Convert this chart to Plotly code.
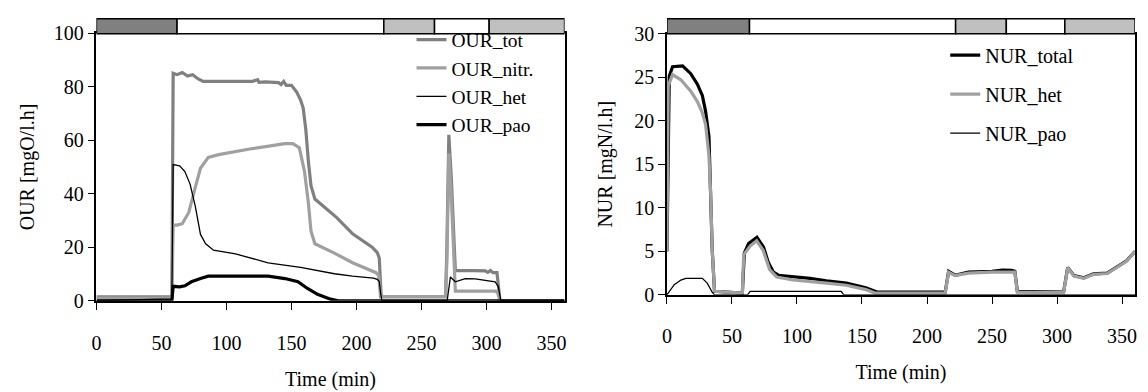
import plotly.graph_objects as go

# ---------------- data ----------------
# Left panel: OUR series (time in min, value in mgO/l.h)
t_our_tot = [0, 58, 59, 62, 66, 70, 74, 78, 82, 90, 100, 110, 120, 124, 125, 130, 140, 142, 144, 146,
             150, 154, 157, 159, 161, 163, 165, 168, 175, 185, 197, 205, 212, 216, 217.5, 219,
             268.5, 269.5, 271, 273, 275, 276, 290, 299, 301, 303, 305, 308, 310.4, 360]
our_tot = [1.5, 1.5, 85, 84.5, 85.3, 84, 84.5, 83, 82, 82, 82, 82, 82, 82.6, 81.6, 81.8, 81.5, 80.8, 82, 80.5,
           80.5, 78, 75, 72, 64, 52, 43, 38, 35, 31, 25, 22.5, 20, 18, 16, 1.5,
           1.5, 20, 62, 45, 22, 11.3, 11.3, 11.2, 10.6, 11.3, 10.5, 10.5, 0, 0]

t_our_nitr = [0, 58, 59, 62, 66, 71, 76, 80, 86, 94, 119, 145, 151, 156, 160, 163, 165, 168, 183, 197,
              215, 217, 218.5, 268.5, 269.5, 271, 273, 275, 276, 307, 308.5, 310.4, 360]
our_nitr = [1, 1, 28.3, 28.3, 28.8, 33, 42.4, 49.5, 53.6, 54.6, 56.8, 58.7, 58.7, 57.2, 48.3, 36.5, 26, 21.3, 17.8, 14.2,
            10.5, 9.5, 1.5, 1.5, 15, 55, 38, 12, 3.6, 3.6, 3.0, 0, 0]

t_our_het = [0, 44, 58, 59, 64, 68, 72, 76, 80, 84, 90, 107, 132, 157, 183, 197, 213, 216, 217.5, 218.5, 219.5,
             269.7, 271, 272.2, 276, 283.6, 291.3, 299, 306.6, 309, 311, 360]
our_het = [0, 0.7, 0.7, 50.9, 50.4, 48.3, 43.6, 35.4, 24.8, 21.3, 18.9, 17.5, 14.2, 12.5, 10.1, 9.2, 8.5, 8.0, 7.2, 3, 0,
           0, 6, 8.9, 7.1, 8.3, 8.2, 7.7, 7.1, 5.3, 0, 0]

t_our_pao = [0, 58, 59, 64, 68, 73, 80, 86, 100, 115, 132, 145, 155, 162, 170, 180, 186, 360]
our_pao = [0, 0, 5.4, 5.2, 5.6, 7.1, 8.3, 9.2, 9.2, 9.1, 9.2, 8.3, 7.1, 4.7, 2.4, 0.6, 0, 0]

our_names = ["OUR_tot", "OUR_nitr.", "OUR_het", "OUR_pao"]

# Right panel: NUR series (time in min, value in mgN/l.h)
t_nur_total = [0, 1.8, 4.3, 12, 18.3, 23.4, 27.2, 29.7, 32.3, 33.6, 34.8, 36.6, 58, 59.5, 62.8, 69.2, 74.2,
               78, 81.9, 85.7, 97, 110, 122.6, 138, 153, 162, 214, 216.6, 221.6, 231.8, 250, 258, 265,
               267.5, 269.5, 305, 308.2, 313, 320.6, 328, 338.5, 346, 353.5, 360]
nur_total = [5, 25.1, 26.2, 26.3, 25.4, 24.2, 22.9, 21.1, 18.2, 12.4, 5.2, 0.4, 0.2, 4.8, 5.9, 6.6, 5.5,
             3.7, 2.6, 2.25, 2.07, 1.9, 1.6, 1.35, 0.8, 0.3, 0.3, 2.7, 2.25, 2.6, 2.7, 2.85, 2.8,
             2.7, 0.4, 0.3, 3.15, 2.2, 1.96, 2.4, 2.5, 3.15, 3.9, 5.0]

t_nur_het = [0, 1, 4.3, 10.7, 18.3, 23.4, 27.2, 29.7, 32.3, 33.6, 34.8, 36.6, 58, 59, 64, 69, 74, 79, 84.4,
             97, 122.6, 138, 153, 160, 214, 216.6, 221.6, 231.8, 250, 265, 267.5, 269.5, 305, 308.2,
             313, 320.6, 328, 338.5, 346, 353.5, 360]
nur_het = [5, 24.0, 25.3, 24.7, 23.4, 22.2, 20.9, 19.6, 16, 11.7, 5.2, 0.4, 0.2, 4.6, 5.6, 6.2, 5.1, 2.9, 2.05,
           1.7, 1.35, 1.1, 0.6, 0.2, 0.2, 2.6, 2.2, 2.5, 2.6, 2.65, 2.6, 0.3, 0.25, 3.1,
           2.15, 1.9, 2.35, 2.45, 3.1, 3.85, 5.0]

t_nur_pao = [0, 5.6, 10.7, 14.5, 27.2, 31, 34.8, 36.6, 62, 64, 134, 136, 360]
nur_pao = [0, 1.16, 1.7, 1.9, 1.9, 1.35, 0.3, 0, 0, 0.4, 0.4, 0, 0]

nur_names = ["NUR_total", "NUR_het", "NUR_pao"]

# Phase bar on top of each panel (start/end times and fill)
phase_left_start = [0, 62, 221, 260, 302]
phase_left_end = [62, 221, 260, 302, 360]
phase_right_start = [0, 63.5, 222, 261, 306]
phase_right_end = [63.5, 222, 261, 306, 360]
phase_fill = ["#808080", "#ffffff", "#c0c0c0", "#ffffff", "#c0c0c0"]

# ---------------- figure ----------------
FONT = "Liberation Serif"
W, H = 1148, 392
fig = go.Figure()

def px_y(p):
    return 1 - p / H

fig.add_trace(go.Scatter(x=t_our_tot, y=our_tot, name=our_names[0], mode="lines",
                         line=dict(color="#808080", width=3.2), xaxis="x", yaxis="y", legend="legend"))
fig.add_trace(go.Scatter(x=t_our_nitr, y=our_nitr, name=our_names[1], mode="lines",
                         line=dict(color="#a0a0a0", width=3.2), xaxis="x", yaxis="y", legend="legend"))
fig.add_trace(go.Scatter(x=t_our_het, y=our_het, name=our_names[2], mode="lines",
                         line=dict(color="#000000", width=1.3), xaxis="x", yaxis="y", legend="legend"))
fig.add_trace(go.Scatter(x=t_our_pao, y=our_pao, name=our_names[3], mode="lines",
                         line=dict(color="#000000", width=3.2), xaxis="x", yaxis="y", legend="legend"))

fig.add_trace(go.Scatter(x=t_nur_total, y=nur_total, name=nur_names[0], mode="lines", legendgroup="a",
                         line=dict(color="#000000", width=3.2), xaxis="x2", yaxis="y2", legend="legend2"))
fig.add_trace(go.Scatter(x=t_nur_het, y=nur_het, name=nur_names[1], mode="lines", legendgroup="b",
                         line=dict(color="#a0a0a0", width=3.2), xaxis="x2", yaxis="y2", legend="legend2"))
fig.add_trace(go.Scatter(x=t_nur_pao, y=nur_pao, name=nur_names[2], mode="lines", legendgroup="c",
                         line=dict(color="#000000", width=1.3), xaxis="x2", yaxis="y2", legend="legend2"))

shapes = []
for xref, starts, ends in (("x", phase_left_start, phase_left_end), ("x2", phase_right_start, phase_right_end)):
    for s, e, c in zip(starts, ends, phase_fill):
        shapes.append(dict(type="rect", xref=xref, yref="paper", x0=s, x1=e,
                           y0=px_y(24), y1=px_y(8.3), fillcolor=c,
                           line=dict(color="black", width=1.5), layer="above"))

tickfont = dict(family=FONT, size=20, color="black")
titlefont = dict(family=FONT, size=20, color="black")
axis_common = dict(showline=True, linecolor="black", linewidth=1.5, mirror=True,
                   ticks="outside", ticklen=7, tickwidth=1, tickcolor="black",
                   showgrid=False, zeroline=False, tickfont=tickfont)

fig.update_layout(
    width=W, height=H, autosize=False,
    margin=dict(l=0, r=0, t=0, b=0),
    paper_bgcolor="white", plot_bgcolor="white",
    font=dict(family=FONT, size=20, color="black"),
    shapes=shapes,
    xaxis=dict(domain=[92 / W, 563 / W], range=[0, 360], tickvals=[0, 50, 100, 150, 200, 250, 300, 350],
               title=dict(text="Time (min)", font=titlefont, standoff=19), ticklabelstandoff=16,
               anchor="y", **axis_common),
    yaxis=dict(domain=[px_y(307), px_y(23.5)], range=[0, 100], tickvals=[0, 20, 40, 60, 80, 100],
               title=dict(text="OUR [mgO/l.h]", font=titlefont, standoff=14), anchor="x", **axis_common),
    xaxis2=dict(domain=[666 / W, 1137 / W], range=[0, 360], tickvals=[0, 50, 100, 150, 200, 250, 300, 350],
                title=dict(text="Time (min)", font=titlefont, standoff=19), ticklabelstandoff=15,
                anchor="y2", **axis_common),
    yaxis2=dict(domain=[px_y(300.7), px_y(24)], range=[0, 30], tickvals=[0, 5, 10, 15, 20, 25, 30],
                title=dict(text="NUR [mgN/l.h]", font=titlefont, standoff=16), anchor="x2", **axis_common),
    legend=dict(x=409 / W, y=px_y(10), xanchor="left", yanchor="top", bgcolor="rgba(0,0,0,0)",
                font=dict(family=FONT, size=19.5, color="black"), tracegroupgap=0, itemwidth=30),
    legend2=dict(x=946 / W, y=px_y(26), xanchor="left", yanchor="top", bgcolor="rgba(0,0,0,0)",
                 font=dict(family=FONT, size=20, color="black"), tracegroupgap=10, itemwidth=30),
    showlegend=True,
)

fig.write_html("out.html")
